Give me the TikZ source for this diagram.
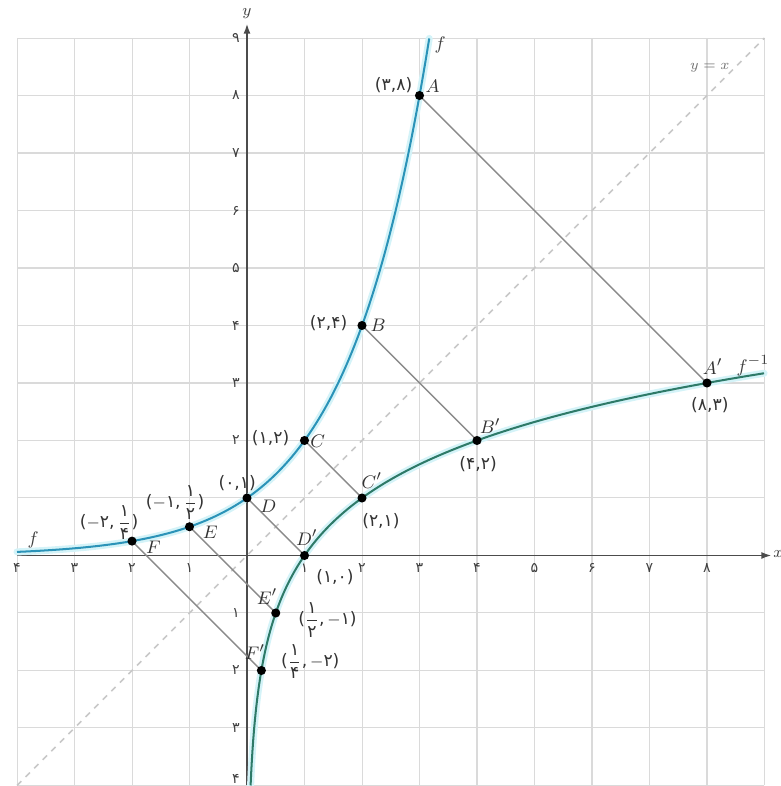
\documentclass[tikz,border=0pt]{standalone}
\usepackage{amsmath}
\usepackage{fontspec}
\newfontfamily\pf{DejaVu Sans}
\usetikzlibrary{arrows.meta}
\definecolor{gridc}{HTML}{DADADA}
\definecolor{fcol}{HTML}{2B93B8}
\definecolor{gcol}{HTML}{2E7A68}
\definecolor{halo}{HTML}{D4F3F8}
\definecolor{segc}{HTML}{8A8A8A}
\definecolor{diagc}{HTML}{C8C8C8}
\newcommand{\pfr}[2]{$\genfrac{}{}{0.4pt}{0}{\mbox{\pf #1}}{\mbox{\pf #2}}$}
\begin{document}
\begin{tikzpicture}[x=1cm,y=1cm,
  dot/.style={circle,fill=black,inner sep=0pt,minimum size=4.5pt},
  coordlbl/.style={font=\pf\fontsize{8.5}{9}\selectfont,text=black!80,inner sep=0pt},
  ptname/.style={font=\fontsize{9.5}{10}\selectfont,text=black!80,inner sep=0pt},
  ticklbl/.style={font=\pf\fontsize{7}{7}\selectfont,text=black!75,inner sep=0pt},
  seg/.style={draw=segc,line width=0.7pt},
  halostyle/.style={draw=halo,line width=3.5pt,line cap=round},
  axisline/.style={draw=black!70,line width=0.8pt,-{Latex[length=5pt,width=3.5pt]}}]
\useasboundingbox (-4.296,-4.009) rectangle (9.287,9.661);
% grid
\draw[gridc,line width=0.5pt] (-4,-4) grid (9,9);
% y = x
\draw[diagc,dashed,line width=0.8pt] (-4,-4) -- (9,9);
\node[font=\fontsize{7.5}{8}\selectfont,text=black!55] (yx) at (8.05,8.48) {$y=x$};
% axes
\coordinate (xs) at (-4,0); \coordinate (xe) at (9.12,0);
\coordinate (ys) at (0,-4); \coordinate (ye) at (0,9.25);
\draw[axisline] (xs) -- (xe);
\draw[axisline] (ys) -- (ye);
\node[font=\fontsize{8.5}{9}\selectfont,text=black!75] (xl) at (9.24,0.02) {$x$};
\node[font=\fontsize{8.5}{9}\selectfont,text=black!75] (yl) at (0,9.42) {$y$};
% tick labels
\foreach \v/\t in {-4/۴,-3/۳,-2/۲,-1/۱,1/۱,2/۲,3/۳,4/۴,5/۵,6/۶,7/۷,8/۸}
  \node[ticklbl,anchor=north] (tx\v) at (\v,-0.13) {\t};
\foreach \v/\t in {-3/۳,-2/۲,-1/۱,2/۲,3/۳,4/۴,5/۵,6/۶,7/۷,8/۸,9/۹}
  \node[ticklbl,anchor=east] (ty\v) at (-0.12,\v) {\t};
\node[ticklbl,anchor=south east] (ty-4) at (-0.12,-3.97) {۴};
% curves
\draw[halostyle] plot[domain=-4:3.1699,samples=200,smooth] (\x,{2^\x});
\draw[halostyle] plot[domain=-4:3.1699,samples=200,smooth] ({2^\x},\x);
\draw[fcol,line width=1pt] plot[domain=-4:3.1699,samples=200,smooth] (\x,{2^\x});
\draw[gcol,line width=1pt] plot[domain=-4:3.1699,samples=200,smooth] ({2^\x},\x);
\node[font=\fontsize{9.5}{10}\selectfont,text=black!75] (fl1) at (3.36,8.88) {$f$};
\node[font=\fontsize{9.5}{10}\selectfont,text=black!75] (fl2) at (-3.72,0.27) {$f$};
\node[font=\fontsize{9.5}{10}\selectfont,text=black!75] (gl) at (8.8,3.3) {$f^{-1}$};
% points
\coordinate (A) at (3,8); \coordinate (B) at (2,4); \coordinate (C) at (1,2);
\coordinate (D) at (0,1); \coordinate (E) at (-1,0.5); \coordinate (F) at (-2,0.25);
\coordinate (Ap) at (8,3); \coordinate (Bp) at (4,2); \coordinate (Cp) at (2,1);
\coordinate (Dp) at (1,0); \coordinate (Ep) at (0.5,-1); \coordinate (Fp) at (0.25,-2);
% segments
\foreach \p in {A,B,C,D,E,F} \draw[seg] (\p) -- (\p p);
\foreach \p in {A,B,C,D,E,F,Ap,Bp,Cp,Dp,Ep,Fp} \node[dot] (n\p) at (\p) {};
% names
\node[ptname] (lA) at (3.23,8.16) {$A$};
\node[ptname] (lB) at (2.28,4.0) {$B$};
\node[ptname] (lC) at (1.23,1.99) {$C$};
\node[ptname] (lD) at (0.37,0.86) {$D$};
\node[ptname] (lE) at (-0.64,0.41) {$E$};
\node[ptname] (lF) at (-1.63,0.15) {$F$};
\node[ptname] (lAp) at (8.1,3.28) {$A'$};
\node[ptname] (lBp) at (4.23,2.25) {$B'$};
\node[ptname] (lCp) at (2.17,1.3) {$C'$};
\node[ptname] (lDp) at (1.04,0.31) {$D'$};
\node[ptname] (lEp) at (0.35,-0.72) {$E'$};
\node[ptname] (lFp) at (0.14,-1.68) {$F'$};
% coordinates
\node[coordlbl] (cA) at (2.55,8.18) {(۳,۸)};
\node[coordlbl] (cB) at (1.42,4.04) {(۲,۴)};
\node[coordlbl] (cC) at (0.41,2.04) {(۱,۲)};
\node[coordlbl] (cD) at (-0.17,1.26) {(۰,۱)};
\node[coordlbl] (cE) at (-1.25,0.92) {($-$۱,\,\pfr{۱}{۲})};
\node[coordlbl] (cF) at (-2.4,0.57) {($-$۲,\,\pfr{۱}{۴})};
\node[coordlbl] (cAp) at (8.05,2.62) {(۸,۳)};
\node[coordlbl] (cBp) at (4.02,1.59) {(۴,۲)};
\node[coordlbl] (cCp) at (2.33,0.6) {(۲,۱)};
\node[coordlbl] (cDp) at (1.53,-0.37) {(۱,۰)};
\node[coordlbl] (cEp) at (1.4,-1.12) {(\pfr{۱}{۲},\,$-$۱)};
\node[coordlbl] (cFp) at (1.1,-1.84) {(\pfr{۱}{۴},\,$-$۲)};
\end{tikzpicture}
\end{document}
